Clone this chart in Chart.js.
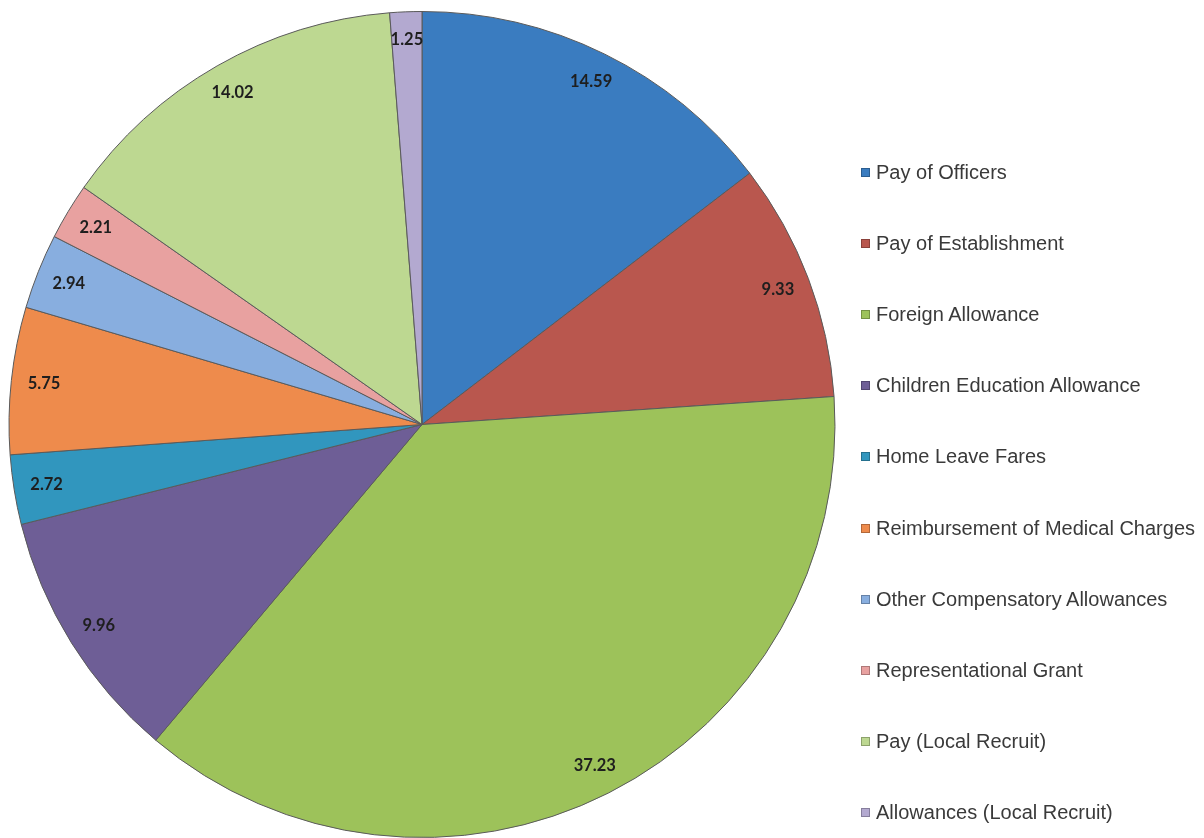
<!DOCTYPE html>
<html>
<head>
<meta charset="utf-8">
<script src="https://cdn.jsdelivr.net/npm/chart.js@4"></script>
<style>
  body { margin: 0; background: #fff; }
  #wrap { position: relative; width: 1204px; height: 838px; overflow: hidden; }
  #legend { position: absolute; left: 861px; top: 137px; margin: 0; padding: 0; list-style: none;
            font-family: "Liberation Sans", Arial, sans-serif; font-size: 20px; color: #3a3a3a; }
  #legend li { height: 71.1px; display: flex; align-items: center; white-space: nowrap; }
  #legend span.box { display: inline-block; width: 9px; height: 9px; margin-right: 6px; border: 1px solid rgba(0,0,0,0.25); box-sizing: border-box; }
</style>
</head>
<body>
<div id="wrap">
  <canvas id="pieChart" width="1204" height="838"></canvas>
  <ul id="legend"></ul>
</div>
<script>
 const labels = [
     "Pay of Officers",
     "Pay of Establishment",
     "Foreign Allowance",
     "Children Education Allowance",
     "Home Leave Fares",
     "Reimbursement of Medical Charges",
     "Other Compensatory Allowances",
     "Representational Grant",
     "Pay (Local Recruit)",
     "Allowances (Local Recruit)"
 ];
 const shares = [14.59, 9.33, 37.23, 9.96, 2.72, 5.75, 2.94, 2.21, 14.02, 1.25];
 const colors = [
     "#3a7cc0", "#b9574e", "#9dc25a", "#6e5e96", "#3196be",
     "#ee8b4c", "#88aedf", "#e8a1a0", "#bdd891", "#b3a9d0"
 ];

 // value labels sit just inside the rim, like Excel's "inside end"
 const sliceLabels = {
     id: 'sliceLabels',
     afterDatasetsDraw(chart) {
         const ctx = chart.ctx;
         const meta = chart.getDatasetMeta(0);
         ctx.save();
         ctx.font = 'bold 16.5px Lato, "DejaVu Sans", sans-serif';
         ctx.fillStyle = '#1e1e1e';
         ctx.textAlign = 'center';
         ctx.textBaseline = 'middle';
         meta.data.forEach((arc, i) => {
             const text = shares[i].toFixed(2);
             const mid = (arc.startAngle + arc.endAngle) / 2;
             const cx = Math.cos(mid), cy = Math.sin(mid);
             const halfW = ctx.measureText(text).width / 2;
             const r = arc.outerRadius - 28 - 0.3 * halfW * Math.abs(cx);
             ctx.fillText(text, arc.x + cx * r, arc.y + cy * r);
         });
         ctx.restore();
     }
 };

 new Chart(document.getElementById("pieChart"), {
     type: 'pie',
     data: {
         labels: labels,
         datasets: [{
             data: shares,
             backgroundColor: colors,
             borderColor: "#5a5a5a",
             borderWidth: 1
         }]
     },
     options: {
         responsive: false,
         animation: false,
         layout: {
             padding: { left: 8, top: 11, right: 368, bottom: 0 }
         },
         plugins: {
             legend: { display: false },
             tooltip: { enabled: false }
         }
     },
     plugins: [sliceLabels]
 });

 const legendEl = document.getElementById("legend");
 labels.forEach((name, i) => {
     const li = document.createElement("li");
     li.innerHTML = `<span class="box" style="background:${colors[i]}"></span>${name}`;
     legendEl.appendChild(li);
 });
</script>
</body>
</html>
